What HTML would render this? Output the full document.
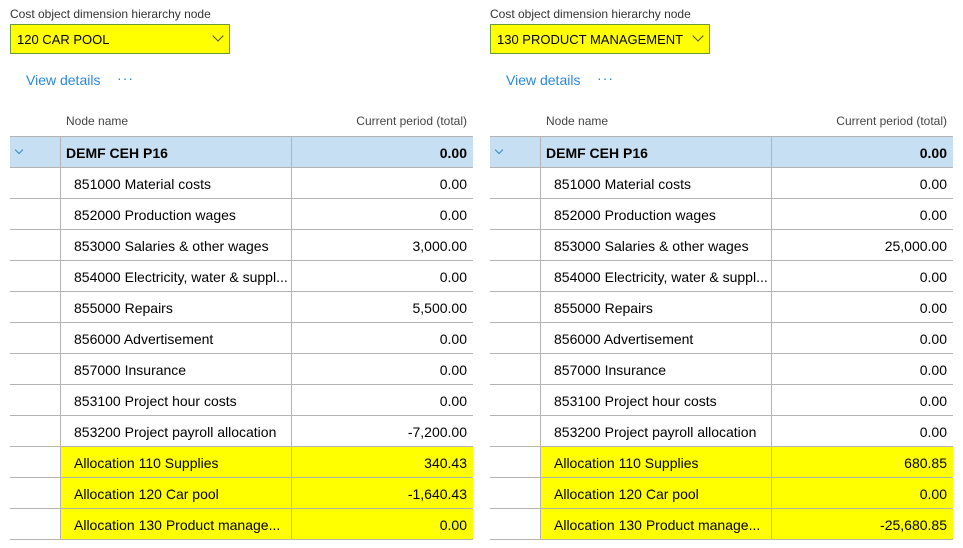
<!DOCTYPE html>
<html><head><meta charset="utf-8"><style>
body{margin:0;width:963px;height:548px;background:#fff;font-family:"Liberation Sans",sans-serif;color:#000;position:relative;overflow:hidden}
.p{position:absolute;top:0;width:470px;height:548px}
.lbl{position:absolute;left:10px;top:7px;font-size:12px;color:#333}
.dd{position:absolute;left:10px;top:24px;width:218px;height:28px;background:#ffff00;border:1px solid #6a9a3a;font-size:13px;line-height:30px;box-sizing:content-box}
.dd span{position:absolute;left:6px}
.dd i{position:absolute;right:7px;width:7px;height:7px;border-right:1.5px solid #444;border-bottom:1.5px solid #444;transform:rotate(45deg);top:7px}
.vd{position:absolute;left:26px;top:72px;font-size:14px;color:#2b88d8}
.dots{position:absolute;left:117px;top:70px;font-size:14px;color:#2b88d8;letter-spacing:1px}
.hn{position:absolute;left:66px;top:114px;font-size:12px;color:#444}
.hc{position:absolute;right:3px;top:114px;font-size:12px;color:#444}
table{position:absolute;left:10px;top:136px;border-collapse:collapse;table-layout:fixed;width:463px}
tr{height:31px}
td{height:29px;padding:1px 0 0 0;border-top:1px solid #b4b4b4;border-bottom:1px solid #b4b4b4;font-size:14px;line-height:16px;white-space:nowrap;overflow:hidden;box-sizing:content-box}
td.a{width:50px}
td.b{width:217px;border-left:1px solid #b4b4b4;padding-left:13px}
td.c{border-left:1px solid #b4b4b4;text-align:right;padding-right:6px}
tr.h td{background:#c7dff2;font-weight:bold}
tr.h td.b{padding-left:5px;width:225px}
tr.y td.b,tr.y td.c{background:#ffff00}
.chev{display:inline-block;width:5px;height:5px;border-right:1px solid #2b88d8;border-bottom:1px solid #2b88d8;transform:rotate(45deg);margin-left:6px;position:relative;top:-5px}
</style></head><body>
<div class="p" style="left:0">
<div class="lbl">Cost object dimension hierarchy node</div>
<div class="dd"><span>120 CAR POOL</span><i></i></div>
<div class="vd">View details</div><div class="dots">···</div>
<div class="hn">Node name</div><div class="hc">Current period (total)</div>
<table>
<tr class="h"><td class="a"><span class="chev"></span></td><td class="b">DEMF CEH P16</td><td class="c">0.00</td></tr>
<tr><td class="a"></td><td class="b">851000 Material costs</td><td class="c">0.00</td></tr>
<tr><td class="a"></td><td class="b">852000 Production wages</td><td class="c">0.00</td></tr>
<tr><td class="a"></td><td class="b">853000 Salaries &amp; other wages</td><td class="c">3,000.00</td></tr>
<tr><td class="a"></td><td class="b">854000 Electricity, water &amp; suppl...</td><td class="c">0.00</td></tr>
<tr><td class="a"></td><td class="b">855000 Repairs</td><td class="c">5,500.00</td></tr>
<tr><td class="a"></td><td class="b">856000 Advertisement</td><td class="c">0.00</td></tr>
<tr><td class="a"></td><td class="b">857000 Insurance</td><td class="c">0.00</td></tr>
<tr><td class="a"></td><td class="b">853100 Project hour costs</td><td class="c">0.00</td></tr>
<tr><td class="a"></td><td class="b">853200 Project payroll allocation</td><td class="c">-7,200.00</td></tr>
<tr class="y"><td class="a"></td><td class="b">Allocation 110 Supplies</td><td class="c">340.43</td></tr>
<tr class="y"><td class="a"></td><td class="b">Allocation 120 Car pool</td><td class="c">-1,640.43</td></tr>
<tr class="y"><td class="a"></td><td class="b">Allocation 130 Product manage...</td><td class="c">0.00</td></tr>
</table>
</div>
<div class="p" style="left:480px">
<div class="lbl">Cost object dimension hierarchy node</div>
<div class="dd"><span>130 PRODUCT MANAGEMENT</span><i></i></div>
<div class="vd">View details</div><div class="dots">···</div>
<div class="hn">Node name</div><div class="hc">Current period (total)</div>
<table>
<tr class="h"><td class="a"><span class="chev"></span></td><td class="b">DEMF CEH P16</td><td class="c">0.00</td></tr>
<tr><td class="a"></td><td class="b">851000 Material costs</td><td class="c">0.00</td></tr>
<tr><td class="a"></td><td class="b">852000 Production wages</td><td class="c">0.00</td></tr>
<tr><td class="a"></td><td class="b">853000 Salaries &amp; other wages</td><td class="c">25,000.00</td></tr>
<tr><td class="a"></td><td class="b">854000 Electricity, water &amp; suppl...</td><td class="c">0.00</td></tr>
<tr><td class="a"></td><td class="b">855000 Repairs</td><td class="c">0.00</td></tr>
<tr><td class="a"></td><td class="b">856000 Advertisement</td><td class="c">0.00</td></tr>
<tr><td class="a"></td><td class="b">857000 Insurance</td><td class="c">0.00</td></tr>
<tr><td class="a"></td><td class="b">853100 Project hour costs</td><td class="c">0.00</td></tr>
<tr><td class="a"></td><td class="b">853200 Project payroll allocation</td><td class="c">0.00</td></tr>
<tr class="y"><td class="a"></td><td class="b">Allocation 110 Supplies</td><td class="c">680.85</td></tr>
<tr class="y"><td class="a"></td><td class="b">Allocation 120 Car pool</td><td class="c">0.00</td></tr>
<tr class="y"><td class="a"></td><td class="b">Allocation 130 Product manage...</td><td class="c">-25,680.85</td></tr>
</table>
</div>
</body></html>
